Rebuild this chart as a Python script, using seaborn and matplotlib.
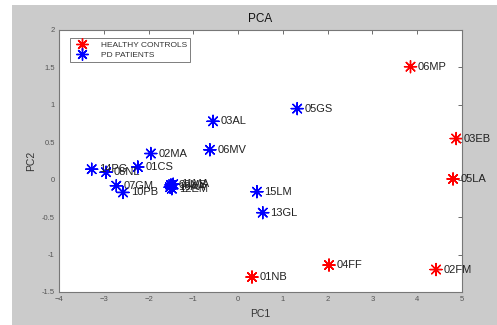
import numpy as np
import pandas as pd
import seaborn as sns
import matplotlib.pyplot as plt
from matplotlib.patches import Rectangle

# datos
nombres = ['06MP', '03EB', '05LA', '04FF', '02FM', '01NB',
           '05GS', '03AL', '06MV', '02MA', '14PG', '08NL', '01CS', '07GM', '10PB',
           '09MB', '12EM', '11MA', '16AA', '15LM', '13GL']
pc1 = [3.85, 4.87, 4.80, 2.03, 4.42, 0.31,
       1.32, -0.56, -0.63, -1.95, -3.27, -2.95, -2.24, -2.72, -2.57,
       -1.50, -1.48, -1.45, -1.52, 0.42, 0.55]
pc2 = [1.51, 0.55, 0.01, -1.14, -1.20, -1.30,
       0.95, 0.78, 0.40, 0.35, 0.14, 0.10, 0.17, -0.08, -0.17,
       -0.07, -0.12, -0.06, -0.10, -0.16, -0.44]
grupo = ['HEALTHY CONTROLS'] * 6 + ['PD PATIENTS'] * 15

df = pd.DataFrame({'PC1': pc1, 'PC2': pc2, 'grupo': grupo, 'nombre': nombres})

sns.set_style('white')
plt.rcParams['font.family'] = ['Liberation Sans', 'DejaVu Sans']
fig = plt.figure(figsize=(4.97, 3.25), dpi=100, facecolor='white')
fig.patches.append(Rectangle((12 / 497, 0), 1, 1 - 5 / 325, transform=fig.transFigure,
                             facecolor='#cbcbcb', edgecolor='none', zorder=-10))
ax = fig.add_axes([59 / 497, 1 - 292 / 325, (462 - 59) / 497, (292 - 30) / 325])
ax.set_facecolor('white')

sns.scatterplot(data=df, x='PC1', y='PC2', hue='grupo',
                palette={'HEALTHY CONTROLS': 'red', 'PD PATIENTS': 'blue'},
                marker=(8, 2, 0), s=75, linewidth=1.0, ax=ax)

for i, fila in df.iterrows():
    ax.text(fila['PC1'] + 0.17, fila['PC2'], fila['nombre'], fontsize=8,
            va='center', ha='left', color='#222222')

ax.set_xlim(-4, 5)
ax.set_ylim(-1.5, 2)
ax.set_xticks(np.arange(-4, 6, 1))
ax.set_yticks(np.arange(-1.5, 2.01, 0.5))
ax.set_yticklabels(['-1.5', '-1', '-0.5', '0', '0.5', '1', '1.5', '2'])
ax.tick_params(direction='in', length=3, width=0.6, labelsize=5.5, colors='#555555',
               top=True, right=True, pad=3)
for sp in ax.spines.values():
    sp.set_color('#777777')
    sp.set_linewidth(0.8)

ax.set_xlabel('PC1', fontsize=7.5, color='#333333', labelpad=4)
ax.set_ylabel('PC2', fontsize=7.5, color='#333333', labelpad=4)
ax.set_title('PCA', fontsize=8.5, color='#111111', pad=6)

leg = ax.legend(loc='upper left', fontsize=6, frameon=True, fancybox=False,
                borderpad=0.35, labelspacing=0.25, handletextpad=1.3,
                bbox_to_anchor=(0.018, 0.985), markerscale=1.0)
leg.get_frame().set_edgecolor('#444444')
leg.get_frame().set_linewidth(0.6)
for t in leg.get_texts():
    t.set_color('#333333')

fig.savefig('out.png', dpi=100, facecolor=fig.get_facecolor())
